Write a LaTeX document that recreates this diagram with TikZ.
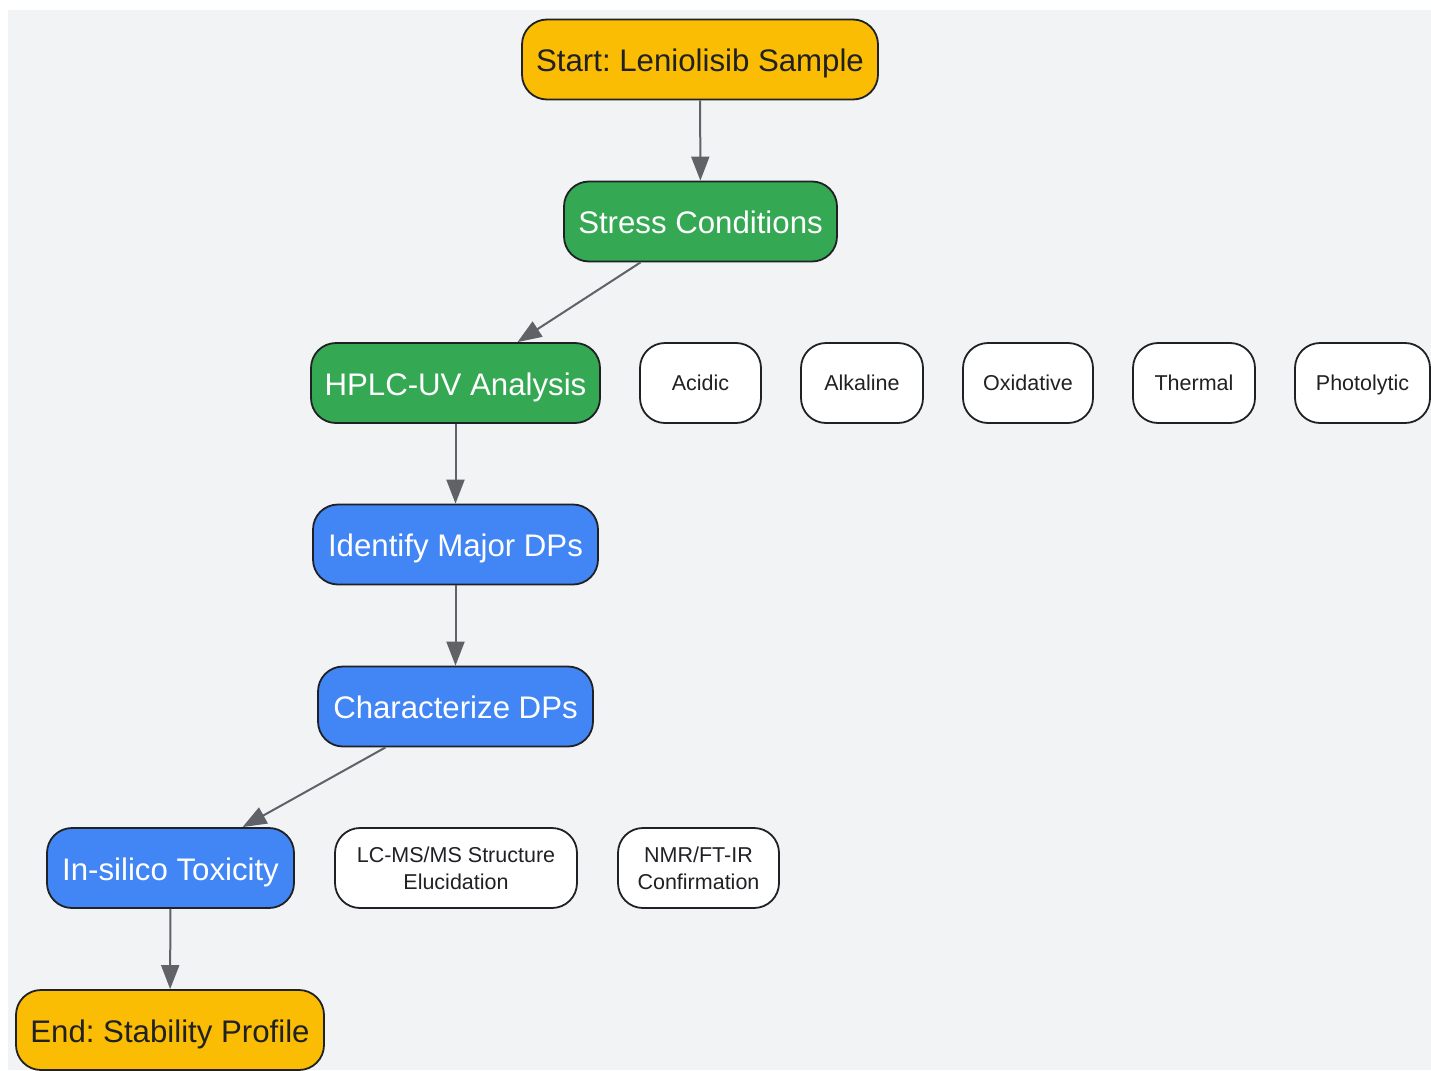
\documentclass[tikz,border=0pt]{standalone}
\usepackage{fontspec}
\setmainfont{Liberation Sans}
\frenchspacing
\usetikzlibrary{arrows.meta,calc}
\definecolor{bg}{HTML}{F1F3F4}
\definecolor{edgec}{HTML}{202124}
\definecolor{txt}{HTML}{202124}
\definecolor{arrowc}{HTML}{5F6368}
\definecolor{gyellow}{HTML}{FBBC04}
\definecolor{ggreen}{HTML}{34A853}
\definecolor{gblue}{HTML}{4285F4}
\begin{document}
\begin{tikzpicture}[x=1pt,y=-1pt,
  box/.style={draw=edgec, line width=1.8pt, rounded corners=25pt, inner sep=0pt, minimum height=80pt, align=center},
  big/.style={box, text height=24.2pt, text depth=0pt, font=\fontsize{31.2}{37}\selectfont\frenchspacing},
  yel/.style={big, fill=gyellow, text=txt},
  grn/.style={big, fill=ggreen, text=white},
  blu/.style={big, fill=gblue, text=white},
  small/.style={box, fill=white, text=txt, font=\fontsize{21.5}{27}\selectfont},
  one/.style={text height=15.6pt, text depth=0pt},
  arr/.style={draw=arrowc, line width=2pt, -{Triangle[length=24pt,width=18pt]}}]
\useasboundingbox (0,0) rectangle (1431,1070);
\fill[bg] (8,10) rectangle (1431,1070);

\node[yel, minimum width=356pt] (start) at (700,59.5) {Start: Leniolisib Sample};
\node[grn, minimum width=273pt] (stress) at (700.5,221.5) {Stress Conditions};
\node[grn, minimum width=289pt] (hplc) at (455.5,383) {HPLC-UV Analysis};
\node[small, one, minimum width=121pt] (acidic) at (700.5,383) {Acidic};
\node[small, one, minimum width=122pt] (alkaline) at (862,383) {Alkaline};
\node[small, one, minimum width=130pt] (oxid) at (1028,383) {Oxidative};
\node[small, one, minimum width=122pt] (thermal) at (1194,383) {Thermal};
\node[small, one, minimum width=135pt] (photo) at (1362.5,383) {Photolytic};
\node[blu, minimum width=285pt] (ident) at (455.5,544.5) {Identify Major DPs};
\node[blu, minimum width=275pt] (charac) at (455.5,706.5) {Characterize DPs};
\node[blu, minimum width=247pt] (tox) at (170.5,868) {In-silico Toxicity};
\node[small, minimum width=242pt] (lcms) at (456,868) {LC-MS/MS Structure\\Elucidation};
\node[small, minimum width=161pt] (nmr) at (698.5,868) {NMR/FT-IR\\Confirmation};
\node[yel, minimum width=308pt] (endn) at (170,1030) {End: Stability Profile};

\draw[arr] (start) -- (stress);
\draw[arr] ([xshift=-60pt]stress.south) -- ([xshift=62pt]hplc.north);
\draw[arr] (hplc) -- (ident);
\draw[arr] (ident) -- (charac);
\draw[arr] ([xshift=-70pt]charac.south) -- ([xshift=72pt]tox.north);
\draw[arr] (tox) -- (endn);
\end{tikzpicture}
\end{document}
